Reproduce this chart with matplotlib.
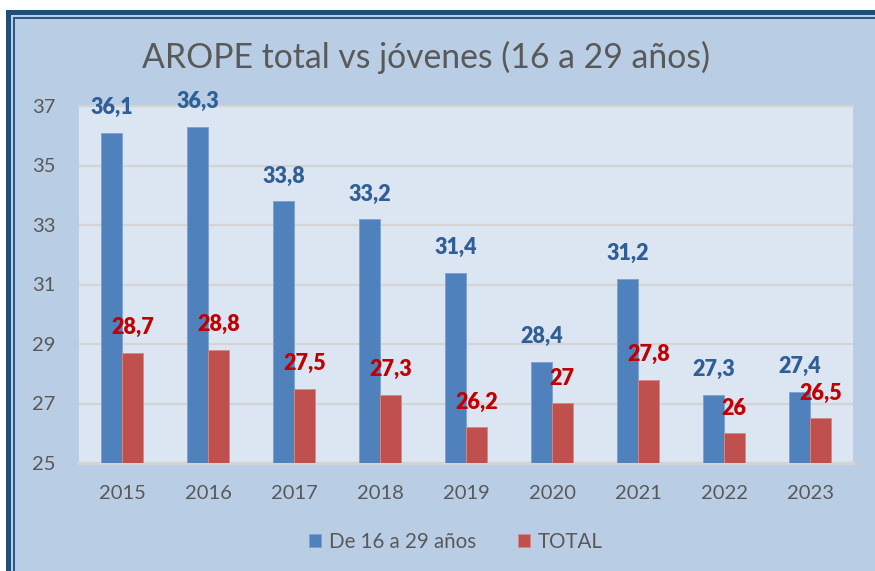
import matplotlib
matplotlib.use("Agg")
import matplotlib.pyplot as plt
import numpy as np
from matplotlib.patches import Rectangle

years = ["2015", "2016", "2017", "2018", "2019", "2020", "2021", "2022", "2023"]
jovenes = [36.1, 36.3, 33.8, 33.2, 31.4, 28.4, 31.2, 27.3, 27.4]
total = [28.7, 28.8, 27.5, 27.3, 26.2, 27.0, 27.8, 26.0, 26.5]
yticks = [25, 27, 29, 31, 33, 35, 37]
title = "AROPE total vs jóvenes (16 a 29 años)"
series_names = ["De 16 a 29 años", "TOTAL"]

FONT = ["Lato", "DejaVu Sans"]
plt.rcParams["font.family"] = FONT

W, H = 875, 571
fig = plt.figure(figsize=(W / 100, H / 100), dpi=100)
fig.patch.set_facecolor("white")

# chart background and frame (pixel coords converted to figure fraction)
def frect(x0, y0, x1, y1, **kw):
    r = Rectangle((x0 / W, 1 - y1 / H), (x1 - x0) / W, (y1 - y0) / H,
                  transform=fig.transFigure, **kw)
    fig.add_artist(r)

frect(6, 10, 900, 600, facecolor="#1f4e79", edgecolor="none", zorder=0)
frect(11, 15, 900, 600, facecolor="#b9cde5", edgecolor="none", zorder=0)
frect(13, 17, 900, 600, facecolor="#2a5a8a", edgecolor="none", zorder=0)
frect(15, 19, 900, 600, facecolor="#b9cde5", edgecolor="none", zorder=0)

ax = fig.add_axes([79 / W, 1 - 463 / H, (853 - 79) / W, (463 - 106) / H])
ax.set_facecolor("#dce6f2")
ax.set_zorder(2)

x = np.arange(len(years))
bw = 0.24
blue, red = "#4f81bd", "#c0504d"
b1 = ax.bar(x - bw / 2, [v - 25 for v in jovenes], bw, bottom=25, color=blue,
            edgecolor="#7fa1cd", linewidth=0.6, zorder=3, label=series_names[0])
b2 = ax.bar(x + bw / 2, [v - 25 for v in total], bw, bottom=25, color=red,
            edgecolor="#d68987", linewidth=0.6, zorder=3, label=series_names[1])

def fmt(v):
    s = ("%.1f" % v).rstrip("0").rstrip(".")
    return s.replace(".", ",")

for xi, v in zip(x, jovenes):
    ax.annotate(fmt(v), (xi - bw / 2, v), xytext=(0, 10.5), textcoords="offset points",
                ha="center", va="bottom", fontsize=15.5, fontweight="heavy",
                color="#2f5f96", zorder=5, annotation_clip=False)
for xi, v in zip(x, total):
    ax.annotate(fmt(v), (xi + bw / 2, v), xytext=(0, 10.5), textcoords="offset points",
                ha="center", va="bottom", fontsize=15.5, fontweight="heavy",
                color="#c00000", zorder=5, annotation_clip=False)

ax.set_xlim(-0.5, len(years) - 0.5)
ax.set_ylim(25, 37)
ax.set_yticks(yticks)
ax.set_yticklabels([str(t) for t in yticks])
ax.set_xticks(x)
ax.set_xticklabels(years)
ax.tick_params(axis="y", length=0, pad=17, labelsize=14.5, labelcolor="#595959")
ax.tick_params(axis="x", length=0, pad=16, labelsize=14.5, labelcolor="#595959")
ax.grid(axis="y", color="#d4d4d4", linewidth=1.6, zorder=1)
ax.set_axisbelow(True)
for s in ["left", "right"]:
    ax.spines[s].set_visible(False)
ax.spines["top"].set_color("#d4d4d4")
ax.spines["top"].set_linewidth(1.6)
ax.spines["bottom"].set_color("#d4d4d4")
ax.spines["bottom"].set_linewidth(2.5)

fig.text(426 / W, 1 - 57 / H, title, ha="center", va="center", fontsize=24.3,
         color="#595959")

leg = fig.legend(handles=[b1, b2], labels=series_names, loc="center",
                 bbox_to_anchor=(456 / W, 1 - 542 / H), ncol=2, frameon=False,
                 fontsize=14.8, handlelength=0.6, handleheight=0.6,
                 handletextpad=0.4, columnspacing=2.0)
for t in leg.get_texts():
    t.set_color("#595959")

fig.savefig("out.png", dpi=100, facecolor=fig.get_facecolor())
